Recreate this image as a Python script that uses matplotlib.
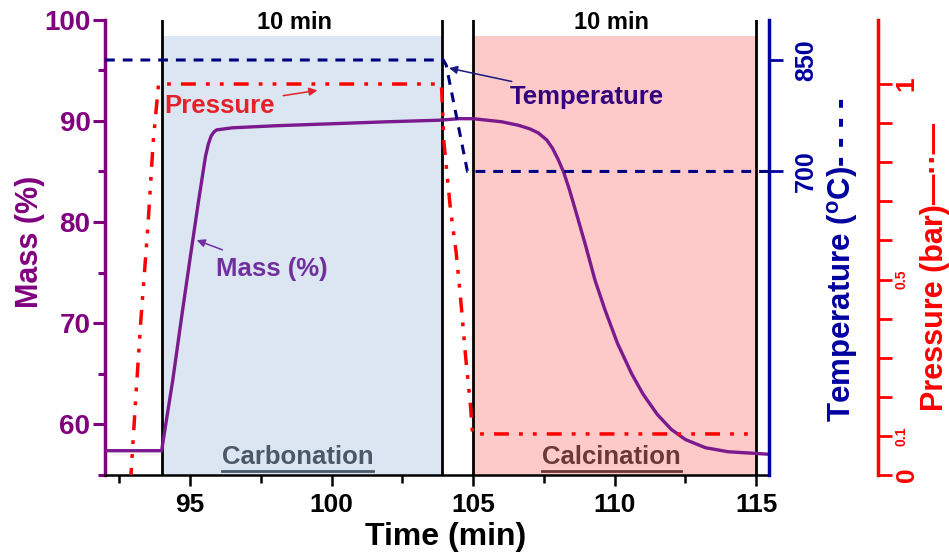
import numpy as np
import matplotlib
matplotlib.use('Agg')
import matplotlib.pyplot as plt
from matplotlib.lines import Line2D

plt.rcParams['font.family'] = ['Liberation Sans', 'DejaVu Sans']
plt.rcParams['font.weight'] = 'bold'
plt.rcParams['axes.labelweight'] = 'bold'
plt.rcParams['mathtext.fontset'] = 'custom'
plt.rcParams['mathtext.rm'] = 'Liberation Sans:bold'
plt.rcParams['mathtext.bf'] = 'Liberation Sans:bold'

# data
mass_t = [92.0, 94.0, 94.1, 94.4, 94.7, 95.0, 95.3, 95.55, 95.65, 95.75, 95.85, 95.95,
          96.5, 98.0, 100.0, 102.0, 103.8, 104.5, 105.0, 106.0, 106.6, 107.0, 107.3,
          107.6, 107.8, 108.0, 108.2, 108.4, 108.6, 108.96, 109.31, 109.66, 110.1,
          110.6, 111.0, 111.5, 112.0, 112.5, 113.2, 114.0, 115.45]
mass = [57.4, 57.4, 59.2, 64.5, 70.5, 76.3, 82.0, 86.5, 87.7, 88.5, 88.9, 89.1,
        89.3, 89.5, 89.7, 89.9, 90.05, 90.2, 90.2, 89.9, 89.55, 89.2, 88.8,
        88.1, 87.3, 86.2, 84.9, 83.2, 81.3, 77.8, 74.2, 71.3, 68.0,
        65.0, 63.0, 61.0, 59.5, 58.5, 57.7, 57.3, 57.05]

temp_t = [92.0, 103.95, 104.05, 104.8, 115.45]
temp = [850, 850, 843, 700, 700]

pres_t = [92.9, 93.08, 93.27, 93.51, 93.70, 93.89, 103.88, 103.97, 104.2, 104.4,
          104.56, 104.74, 104.91, 104.98, 115.0]
pres = [-0.02, 0.19, 0.40, 0.63, 0.85, 1.0, 1.0, 0.85, 0.68, 0.57,
        0.45, 0.30, 0.175, 0.105, 0.105]

stages = [(94.0, 103.9, '#dce6f2', 'Carbonation', '#4b5868'),
          (105.0, 115.0, '#fdc9c9', 'Calcination', '#6a3838')]
boundaries = [94.0, 103.9, 105.0, 115.0]

purple = '#800080'
mass_col = '#7b1a8e'
navy = '#000080'
blue = '#0000a0'
red = '#ff0000'

fig = plt.figure(figsize=(9.49, 5.56), dpi=100)
ax = fig.add_axes([105 / 949, 1 - 475 / 556, 664 / 949, 455.5 / 556])
ax.set_xlim(92, 115.45)
ax.set_ylim(55, 100)

# shaded stages
for x0, x1, fc, name, tc in stages:
    ax.axvspan(x0, x1, ymin=0, ymax=(98.37 - 55) / 45, color=fc, lw=0, zorder=0)
for b in boundaries:
    ax.axvline(b, 0, 1, color='black', lw=2, zorder=1)

ax.plot(mass_t, mass, color=mass_col, lw=2.4, zorder=3)

for s in ['top', 'right']:
    ax.spines[s].set_visible(False)
ax.spines['left'].set_color(purple)
ax.spines['left'].set_linewidth(2.5)
ax.spines['bottom'].set_linewidth(1.8)

ax.set_xticks([95, 100, 105, 110, 115])
ax.set_xticks([92.5, 97.5, 102.5, 107.5, 112.5], minor=True)
ax.set_yticks([60, 70, 80, 90, 100])
ax.set_yticks([55, 65, 75, 85, 95], minor=True)
ax.tick_params(axis='x', which='major', length=8, width=1.8, labelsize=19, pad=5)
ax.tick_params(axis='x', which='minor', length=6, width=1.8)
ax.tick_params(axis='y', which='major', length=9, width=2.2, labelsize=20,
               colors=purple, pad=1.5)
ax.tick_params(axis='y', which='minor', length=5, width=2.2, colors=purple)

# temperature axis
tax = ax.twinx()
tax.set_ylim(291.5, 904.5)
tax.plot(temp_t, temp, color=navy, lw=2.2, linestyle=(0, (3.2, 2.6)), zorder=4)
for s in ['top', 'left', 'bottom']:
    tax.spines[s].set_visible(False)
tax.spines['right'].set_color(blue)
tax.spines['right'].set_linewidth(2.5)
tax.set_yticks([700, 850])
tax.tick_params(axis='y', length=10, width=2, colors=blue, labelsize=18,
                labelrotation=90, pad=8)
for lab in tax.get_yticklabels():
    lab.set_va('center')

# pressure axis
pax = ax.twinx()
pax.set_ylim(0, 1.165)
pax.plot(pres_t, pres, color=red, lw=2.5,
         linestyle=(0, (4.3, 2.9, 1.1, 2.9, 1.1, 2.9)), zorder=5)
for s in ['top', 'left', 'bottom']:
    pax.spines[s].set_visible(False)
pax.spines['right'].set_position(('axes', (878 - 105) / 664))
pax.spines['right'].set_color(red)
pax.spines['right'].set_linewidth(2.5)
pticks = np.round(np.arange(0, 1.01, 0.1), 1)
pax.set_yticks(pticks)
plabels = ['0', '0.1', '', '', '', '0.5', '', '', '', '', '1']
pax.set_yticklabels(plabels)
pax.tick_params(axis='y', length=10, width=2, colors=red, labelrotation=90, pad=2)
for lab, txt in zip(pax.get_yticklabels(), plabels):
    lab.set_va('center')
    lab.set_fontsize(19 if txt in ('0', '1') else 10)

# axis titles
fig.text(30 / 949, 1 - 242 / 556, 'Mass (%)', rotation=90, ha='center', va='center',
         fontsize=22, color=purple)
fig.text(446 / 949, 1 - 537 / 556, 'Time (min)', ha='center', va='center', fontsize=23)
fig.text(843 / 949, 1 - 260 / 556, 'Temperature ($^{\\mathbf{o}}$C)- - - -', rotation=90,
         ha='center', va='center', fontsize=22.5, color=blue)
fig.text(935 / 949, 1 - 267 / 556, 'Pressure (bar)—··—', rotation=90,
         ha='center', va='center', fontsize=22, color=red)

# stage durations
ax.text(98.7, 99.7, '10 min', ha='center', va='center', fontsize=17, clip_on=False)
ax.text(109.9, 99.7, '10 min', ha='center', va='center', fontsize=17, clip_on=False)

# curve annotations
ax.annotate('Pressure', xy=(99.5, 93.0), xytext=(96.05, 91.5), ha='center', va='center',
            fontsize=18.5, color='#e3222a',
            arrowprops=dict(arrowstyle='-|>', color='#e3222a', lw=1.1,
                            mutation_scale=12, shrinkA=4, shrinkB=0))
ax.annotate('Temperature', xy=(104.15, 95.2), xytext=(109.0, 92.3), ha='center',
            va='center', fontsize=18.5, color='#330080',
            arrowprops=dict(arrowstyle='-|>', color='#1a1a80', lw=1.1,
                            mutation_scale=12, shrinkA=4, shrinkB=0))
ax.annotate('Mass (%)', xy=(95.24, 78.2), xytext=(97.9, 75.4), ha='center', va='center',
            fontsize=18.5, color='#7030a0',
            arrowprops=dict(arrowstyle='-|>', color='#7030a0', lw=1.1,
                            mutation_scale=12, shrinkA=8, shrinkB=0))

# stage names, underlined
stage_texts = []
for x0, x1, fc, name, tc in stages:
    xc = 98.8 if name == 'Carbonation' else 109.9
    t = ax.text(xc, 56.75, name, ha='center', va='center', fontsize=18.5, color=tc,
                zorder=6)
    stage_texts.append((t, tc))

fig.canvas.draw()
rend = fig.canvas.get_renderer()
for t, tc in stage_texts:
    bb = t.get_window_extent(rend)
    y = (bb.y0 - 2) / fig.bbox.height
    fig.add_artist(Line2D([bb.x0 / fig.bbox.width, bb.x1 / fig.bbox.width], [y, y],
                          color=tc, lw=2))

fig.savefig('out.png', dpi=100)
